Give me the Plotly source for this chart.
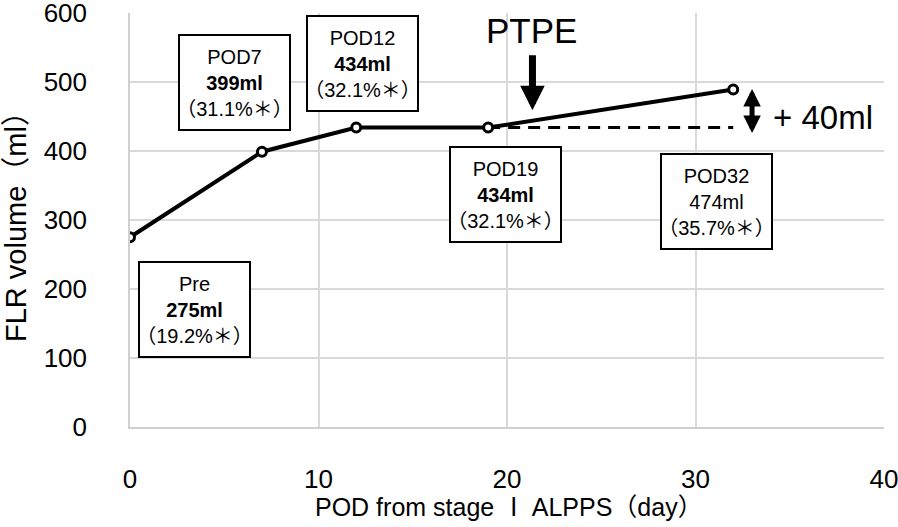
import plotly.graph_objects as go

# ---- data ----
pod_days = [0, 7, 12, 19, 32]
flr_volume = [275, 399, 434, 434, 489]          # plotted positions
point_names = ["Pre", "POD7", "POD12", "POD19", "POD32"]
volume_labels = ["275ml", "399ml", "434ml", "434ml", "474ml"]
ratio_labels = ["19.2%", "31.1%", "32.1%", "32.1%", "35.7%"]
bold_volume = [True, True, True, True, False]
baseline_days = [19, 32]
baseline_volume = [434, 434]
x_ticks = [0, 10, 20, 30, 40]
y_ticks = [0, 100, 200, 300, 400, 500, 600]

# ---- layout helpers (positions of the label boxes, in axis units) ----
box_pos = [(3.44, 171), (5.54, 499), (12.32, 527), (19.9, 337), (31.13, 327)]

FONT = "Liberation Sans, Arial, Noto Sans CJK JP, sans-serif"

fig = go.Figure()
fig.add_trace(go.Scatter(
    x=baseline_days, y=baseline_volume, mode="lines",
    line=dict(color="black", width=3, dash="12px,8px"), hoverinfo="skip"))
fig.add_trace(go.Scatter(
    x=pod_days, y=flr_volume, mode="lines+markers",
    line=dict(color="black", width=4),
    marker=dict(symbol="circle", size=9, color="white",
                line=dict(color="black", width=3))))

annotations = []
for (bx, by), name, vol, rat, b in zip(box_pos, point_names, volume_labels,
                                       ratio_labels, bold_volume):
    v = f"<b>{vol}</b>" if b else vol
    annotations.append(dict(
        x=bx, y=by, xref="x", yref="y", showarrow=False,
        text=f"{name}<br>{v}<br>（{rat}＊）",
        font=dict(family=FONT, size=20, color="black"),
        bgcolor="white", bordercolor="black", borderwidth=2, borderpad=2,
        width=105, height=89, align="center", valign="middle"))

# PTPE label and arrow
annotations.append(dict(x=21.3, y=574, xref="x", yref="y", showarrow=False,
                        text="PTPE", font=dict(family=FONT, size=35, color="black")))
annotations.append(dict(x=21.35, y=459, ax=21.35, ay=541, xref="x", yref="y",
                        axref="x", ayref="y", showarrow=True, text="",
                        arrowhead=2, arrowsize=0.7, arrowwidth=7, arrowcolor="black"))
# +40ml double arrow
annotations.append(dict(x=33.0, y=426, ax=33.0, ay=492, xref="x", yref="y",
                        axref="x", ayref="y", showarrow=True, text="",
                        arrowhead=2, startarrowhead=2, arrowside="end+start",
                        arrowsize=0.7, startarrowsize=0.7,
                        arrowwidth=5, arrowcolor="black"))
annotations.append(dict(x=34.0, y=448, xref="x", yref="y", showarrow=False,
                        xanchor="left", text="+ 40ml",
                        font=dict(family=FONT, size=33, color="black")))

# axis titles
annotations.append(dict(x=0.503, y=0, xref="paper", yref="paper", yshift=-80,
                        showarrow=False, yanchor="middle", xanchor="center",
                        text="POD from stage Ⅰ ALPPS（day）",
                        font=dict(family=FONT, size=25, color="black")))
annotations.append(dict(x=0, y=0.5, xref="paper", yref="paper", xshift=-114,
                        showarrow=False, textangle=-90, xanchor="center",
                        yanchor="middle",
                        text="FLR volume（ml）",
                        font=dict(family=FONT, size=29, color="black")))

fig.update_layout(
    width=898, height=527,
    margin=dict(l=130, r=14, t=13, b=100),
    plot_bgcolor="white", paper_bgcolor="white",
    showlegend=False,
    annotations=annotations,
    font=dict(family=FONT, color="black"),
)
fig.update_xaxes(
    range=[0, 40], tickvals=x_ticks, ticktext=[str(t) for t in x_ticks],
    showgrid=False, zeroline=False, showline=True, linecolor="#d0d0d0", linewidth=1.5,
    ticks="", tickfont=dict(family=FONT, size=26, color="black"),
    ticklabelstandoff=28, automargin=False, ticklabeloverflow="allow",
    minor=dict(tickvals=x_ticks[1:-1], showgrid=True, gridcolor="#d9d9d9", gridwidth=1.5, ticks=""),
)
fig.update_yaxes(
    range=[0, 600], tickvals=y_ticks, ticktext=[str(t) for t in y_ticks],
    showgrid=False, zeroline=False, showline=True, linecolor="#d0d0d0", linewidth=1.5,
    ticks="", tickfont=dict(family=FONT, size=26, color="black"),
    ticklabelstandoff=36, automargin=False, ticklabeloverflow="allow",
    minor=dict(tickvals=y_ticks[1:-1], showgrid=True, gridcolor="#d9d9d9", gridwidth=1.5, ticks=""),
)

fig.write_html("out.html", config={"displayModeBar": False},
               post_script="document.body.style.margin='0';document.body.style.overflow='hidden';")
